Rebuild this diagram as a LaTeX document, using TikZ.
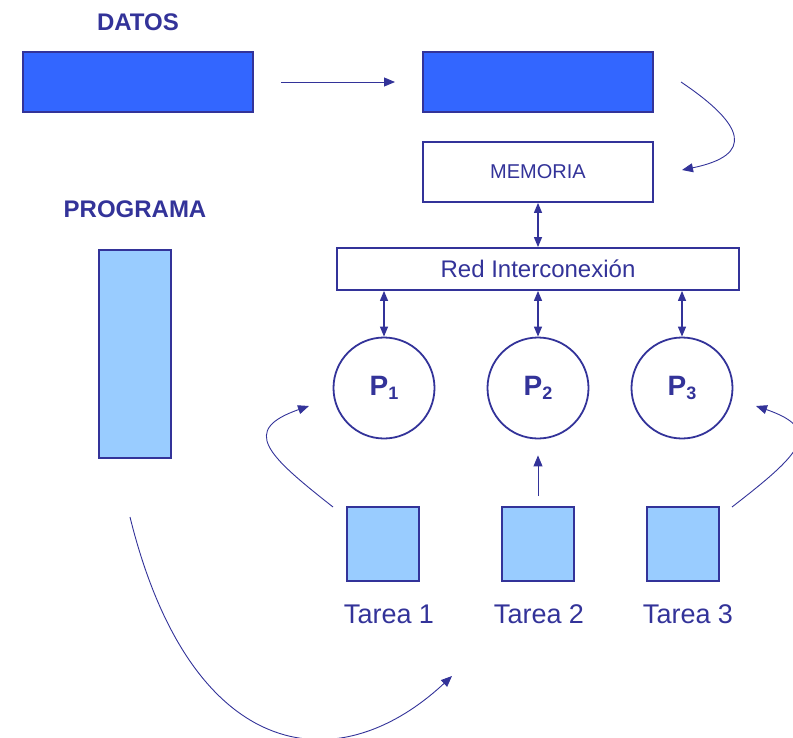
\documentclass[tikz,border=0pt]{standalone}
\usepackage{fontspec}
\setmainfont{Liberation Sans}
\usepackage{xcolor}
\usepackage{tikz}
\usetikzlibrary{arrows.meta,positioning,calc}

\definecolor{navy}{HTML}{333399}
\definecolor{datosfill}{HTML}{3366FF}
\definecolor{progfill}{HTML}{99CCFF}

\newcommand{\proc}[1]{\textbf{P}\raisebox{-4.5pt}{\fontsize{18}{18}\selectfont\bfseries #1}}

\begin{document}
\begin{tikzpicture}[
    x=1pt, y=-1pt,
    box/.style={draw=navy, line width=1.8pt, inner sep=0pt, text=navy},
    proc/.style={circle, draw=navy, line width=1.8pt, minimum size=101pt, inner sep=0pt,
        text=navy, font=\fontsize{28}{30}\selectfont\bfseries},
    title/.style={text=navy, font=\fontsize{24}{28}\selectfont\bfseries},
    tarea/.style={text=navy, font=\fontsize{27}{30}\selectfont},
    flow/.style={draw=navy, line width=0.9pt, -{Triangle[length=11pt, width=9pt]}},
    link/.style={draw=navy, line width=1.2pt, {Triangle[length=10pt, width=8pt]}-{Triangle[length=10pt, width=8pt]}}
]
    \useasboundingbox (0,0) rectangle (793,737);

    % Titles
    \node[title] (datoslbl) at (138,22) {DATOS};
    \node[title] (proglbl) at (135,209) {PROGRAMA};

    % Datos
    \node[box, fill=datosfill, minimum width=230pt, minimum height=60pt] (datos1) at (138,82) {};
    \node[box, fill=datosfill, minimum width=230pt, minimum height=60pt] (datos2) at (538,82) {};

    % Programa
    \node[box, fill=progfill, minimum width=72pt, minimum height=208pt] (prog) at (135,354) {};

    % Memoria and network
    \node[box, fill=white, minimum width=230pt, minimum height=60pt,
        font=\fontsize{20}{24}\selectfont] (mem) at (538,172) {MEMORIA};
    \node[box, fill=white, minimum width=402pt, minimum height=42pt,
        font=\fontsize{24}{28}\selectfont] (red) at (538,269) {Red Interconexión};

    % Processors
    \node[proc] (p1) at (384,388) {\proc{1}};
    \node[proc] (p2) at (538,388) {\proc{2}};
    \node[proc] (p3) at (682,388) {\proc{3}};

    % Tasks
    \node[box, fill=progfill, minimum width=72pt, minimum height=74pt] (t1) at (383,544) {};
    \node[box, fill=progfill, minimum width=72pt, minimum height=74pt] (t2) at (538,544) {};
    \node[box, fill=progfill, minimum width=72pt, minimum height=74pt] (t3) at (683,544) {};
    \node[tarea] (t1lbl) at (389,614) {Tarea 1};
    \node[tarea] (t2lbl) at (539,614) {Tarea 2};
    \node[tarea] (t3lbl) at (688,614) {Tarea 3};

    % Free ends of the flows
    \coordinate (dA) at (281,82);
    \coordinate (dB) at (395,82);
    \coordinate (mA) at (681,82);
    \coordinate (mB) at (682,170);
    \coordinate (a1) at (333,507);
    \coordinate (b1) at (309,406);
    \coordinate (a3) at (732,507);
    \coordinate (b3) at (756,406);
    \coordinate (gA) at (130,517);
    \coordinate (gB) at (452,676);

    % Data flow
    \draw[flow] (dA) -- (dB);
    \draw[flow] (mA) .. controls (745,125) and (755,155) .. (mB);

    % Network links
    \draw[link] (mem) -- (red);
    \draw[link] (red.south -| p1) -- (p1.north);
    \draw[link] (red.south -| p2) -- (p2.north);
    \draw[link] (red.south -| p3) -- (p3.north);

    % Tasks to processors
    \draw[flow] (a1) .. controls (267,455) and (240,430) .. (b1);
    \draw[flow, shorten <=10pt, shorten >=16pt] (t2) -- (p2);
    \draw[flow] (a3) .. controls (799,455) and (826,430) .. (b3);

    % Programa to tasks
    \draw[flow] (gA) .. controls (190,760) and (335,785) .. (gB);
\end{tikzpicture}
\end{document}
